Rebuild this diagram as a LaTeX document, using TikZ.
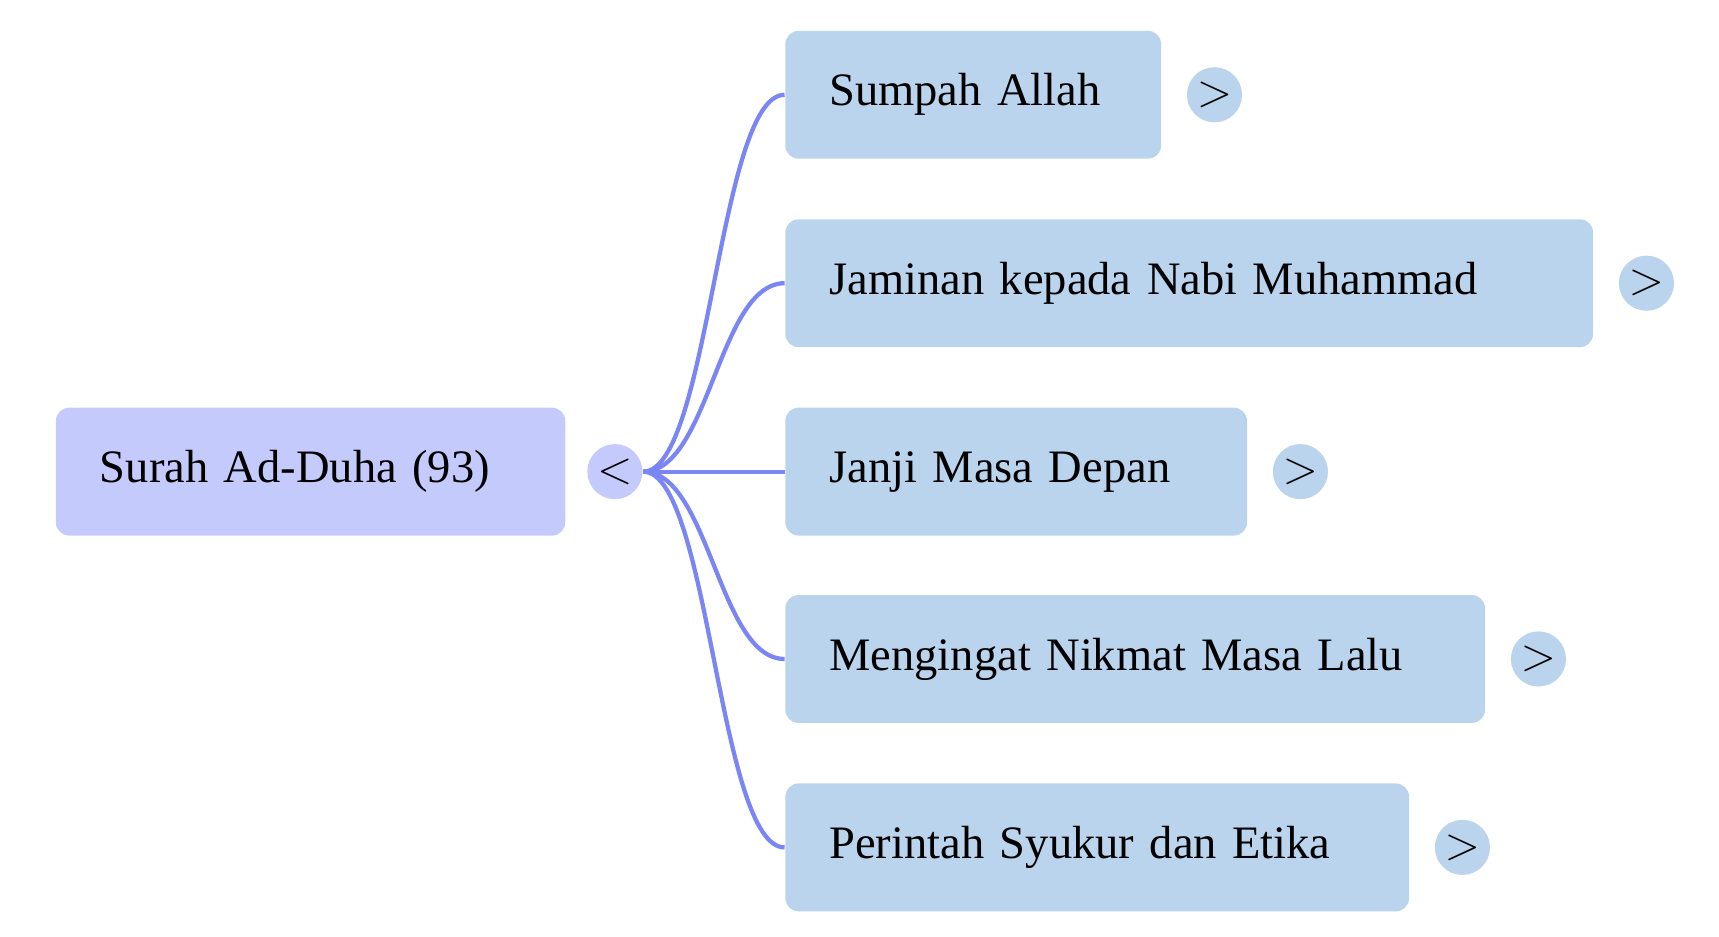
\documentclass[tikz,border=0pt]{standalone}
\usepackage{fontspec}
\setmainfont{Liberation Serif}
\usetikzlibrary{positioning}
\definecolor{rootfill}{HTML}{C5CAFC}
\definecolor{kidfill}{HTML}{BAD4EE}
\definecolor{linkcol}{HTML}{7B86F5}

\begin{document}
\begin{tikzpicture}[x=0.01cm, y=-0.01cm, font=\fontsize{12}{14}\selectfont,
  box/.style={rectangle, rounded corners=0.12cm, minimum height=1.16cm, inner xsep=0.4cm, align=left, anchor=west},
  root/.style={box, fill=rootfill},
  kid/.style={box, fill=kidfill},
  tog/.style={circle, minimum size=0.5cm, inner sep=0pt},
  link/.style={linkcol, line width=1.1pt}]
	\useasboundingbox (0,0) rectangle (1560,850);
	\node[root, minimum width=4.62cm, text width=3.82cm] (Root) at (50,428) {Surah Ad-Duha (93)};
	\node[tog, fill=rootfill] (Root_tog) at (558,428) {$<$};

	\foreach \n/\t/\w/\y in {a/Sumpah Allah/341/86,
	                         b/Jaminan kepada Nabi Muhammad/733/257,
	                         c/Janji Masa Depan/419/428,
	                         d/Mengingat Nikmat Masa Lalu/635/598,
	                         e/Perintah Syukur dan Etika/566/769}{
		\node[kid, minimum width=\w*0.01cm, text width=\w*0.01cm-0.8cm] (\n) at (712,\y) {\t};
		\node[tog, fill=kidfill, right=0.22cm of \n] (\n_tog) {$>$};
		\draw[link] (Root_tog.east) .. controls +(0.6cm,0) and +(-0.6cm,0) .. (\n.west);
	}
\end{tikzpicture}
\end{document}
